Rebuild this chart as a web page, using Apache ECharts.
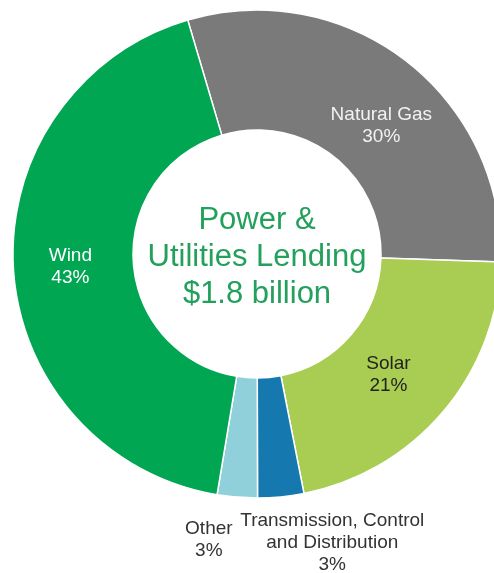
<!DOCTYPE html>
<html>
<head>
<meta charset="utf-8">
<script src="https://cdn.jsdelivr.net/npm/echarts@6/dist/echarts.min.js"></script>
<style>
html,body{margin:0;padding:0;background:#fff;}
#chart{width:494px;height:573px;}
</style>
</head>
<body>
<div id="chart"></div>
<script>
const categories = ['Natural Gas', 'Solar', 'Transmission, Control\nand Distribution', 'Other', 'Wind'];
const values = [30.1, 21.4, 3.05, 2.65, 42.8];
const colors = ['#7a7a7a', '#a8cd52', '#1579b0', '#8fd0da', '#00a651'];
const labelColors = ['#f2f2f2', '#222222', '#333333', '#333333', '#ffffff'];
const labelShift = [[10, 20], [-11, 0], [57, 103], [-33, 99], [0, 1]];
const centerLines = ['Power &', 'Utilities Lending', '$1.8 billion'];

const chart = echarts.init(document.getElementById('chart'));
chart.setOption({
  backgroundColor: '#ffffff',
  animation: false,
  graphic: [{
    type: 'text',
    x: 257, y: 257,
    style: {
      text: centerLines.join('\n'),
      fill: '#23a05c',
      font: '31px "Liberation Sans", Arial, sans-serif',
      align: 'center',
      verticalAlign: 'middle',
      lineHeight: 37
    }
  }],
  series: [{
    type: 'pie',
    center: [257, 254],
    radius: [124, 244],
    startAngle: 106.5,
    clockwise: true,
    avoidLabelOverlap: false,
    itemStyle: { borderColor: '#ffffff', borderWidth: 1.5 },
    label: {
      show: true,
      position: 'inside',
      fontFamily: '"Liberation Sans", Arial, sans-serif',
      fontSize: 19,
      lineHeight: 22,
      align: 'center',
      formatter: p => p.name + '\n' + Math.round(p.value) + '%'
    },
    labelLine: { show: false },
    labelLayout: p => ({ dx: labelShift[p.dataIndex][0], dy: labelShift[p.dataIndex][1] }),
    emphasis: { disabled: true },
    data: categories.map((c, i) => ({
      name: c,
      value: values[i],
      itemStyle: { color: colors[i] },
      label: { color: labelColors[i] }
    }))
  }]
});
</script>
</body>
</html>
